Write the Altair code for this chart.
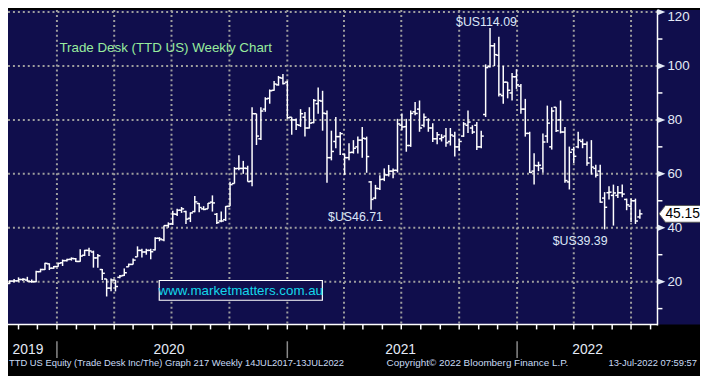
import altair as alt
import pandas as pd

# ---------------- data (weekly OHLC, TTD US) ----------------
START = "2019-10-04"
opens = [19.2, 19.0, 19.3, 20.2, 20.3, 20.8, 20.6, 20.0, 20.0, 23.7,
         24.5, 26.6, 25.0, 25.6, 27.0, 27.8, 28.3, 28.5, 27.5, 29.8,
         31.6, 31.0, 28.8, 24.5, 21.0, 17.6, 20.6, 21.6, 22.3, 25.5,
         26.4, 29.2, 31.6, 31.0, 31.6, 31.8, 36.1, 35.5, 40.8, 41.4,
         45.0, 46.5, 46.0, 43.5, 46.0, 49.0, 47.0, 47.0, 49.5, 45.0,
         42.5, 43.0, 48.0, 56.4, 62.0, 62.0, 62.0, 57.3, 82.3, 73.0,
         84.0, 88.0, 91.0, 93.0, 95.5, 94.0, 81.0, 80.0, 78.0, 81.0,
         77.0, 79.0, 86.0, 87.0, 82.3, 66.0, 72.0, 73.8, 67.3, 66.0,
         68.0, 70.0, 72.5, 73.0, 57.0, 51.0, 54.5, 58.0, 59.6, 61.0,
         61.3, 78.0, 77.5, 70.5, 83.0, 84.0, 78.0, 80.0, 77.0, 73.0,
         73.0, 74.0, 72.0, 74.0, 70.0, 74.0, 78.0, 77.0, 78.0, 70.0,
         82.0, 99.8, 107.5, 104.0, 89.0, 94.0, 90.0, 96.0, 92.5, 84.0,
         75.0, 61.0, 63.0, 62.0, 74.0, 70.0, 84.7, 80.0, 75.5, 57.0,
         69.0, 70.0, 72.0, 71.0, 66.0, 62.0, 61.0, 51.0, 53.0, 52.0,
         52.0, 53.0, 50.5, 48.0, 50.0, 44.0]
highs = [19.6, 19.8, 20.5, 21.0, 21.6, 21.3, 21.8, 20.8, 24.0, 24.8,
         27.0, 26.8, 25.8, 27.0, 28.2, 28.5, 29.0, 28.8, 32.0, 31.8,
         32.6, 31.5, 30.3, 24.7, 21.0, 21.2, 20.6, 22.5, 24.9, 26.7,
         28.6, 33.1, 32.2, 32.2, 32.2, 36.5, 36.5, 40.8, 42.0, 46.3,
         47.0, 47.7, 46.3, 45.7, 51.8, 49.2, 48.0, 49.2, 52.0, 45.5,
         46.0, 48.0, 57.1, 62.5, 66.9, 64.8, 63.0, 84.7, 82.3, 84.7,
         88.4, 91.3, 94.4, 96.3, 97.0, 94.5, 81.0, 80.5, 84.0, 82.9,
         84.7, 87.8, 92.0, 90.8, 83.5, 76.0, 81.1, 75.5, 67.5, 71.3,
         72.5, 73.8, 77.4, 73.8, 57.3, 55.9, 59.5, 62.0, 63.3, 62.0,
         80.4, 82.4, 80.4, 83.5, 86.6, 87.2, 82.4, 80.6, 78.8, 75.5,
         74.7, 77.0, 77.0, 75.6, 73.0, 79.2, 83.5, 78.0, 79.2, 76.0,
         100.6, 114.09, 108.5, 110.8, 100.0, 94.0, 97.4, 98.8, 93.3, 87.8,
         75.6, 67.6, 64.5, 75.0, 85.3, 84.7, 84.7, 87.2, 77.4, 70.1,
         70.0, 75.6, 73.0, 72.0, 72.5, 63.4, 63.4, 53.2, 55.4, 56.0,
         55.5, 56.0, 50.8, 50.8, 50.8, 46.8]
lows = [18.6, 18.8, 19.2, 19.8, 20.0, 20.2, 20.0, 19.6, 19.8, 23.5,
        24.3, 24.3, 24.8, 25.5, 25.8, 27.5, 27.8, 27.3, 27.4, 29.5,
        29.5, 25.2, 25.2, 20.6, 14.5, 16.4, 16.4, 21.3, 22.1, 25.5,
        26.4, 29.2, 29.0, 30.0, 28.3, 31.6, 35.0, 35.0, 40.0, 41.0,
        44.4, 45.5, 41.4, 42.1, 45.7, 45.7, 46.5, 47.0, 46.0, 41.4,
        42.0, 42.5, 48.0, 56.4, 61.3, 60.0, 57.1, 55.4, 70.7, 72.5,
        83.0, 86.0, 90.8, 92.7, 93.1, 80.4, 74.5, 76.3, 77.4, 73.8,
        76.8, 78.8, 82.3, 76.0, 56.7, 65.0, 69.5, 67.0, 59.6, 65.0,
        67.5, 67.5, 66.0, 60.4, 46.71, 50.6, 54.0, 57.3, 59.0, 58.4,
        60.5, 76.2, 68.2, 70.0, 81.7, 75.6, 77.3, 75.6, 71.8, 71.0,
        72.0, 70.0, 70.5, 66.4, 68.5, 73.7, 75.1, 74.8, 68.8, 69.5,
        81.1, 99.4, 100.0, 88.7, 86.0, 88.0, 87.2, 91.5, 82.3, 73.8,
        60.3, 56.0, 61.0, 60.4, 71.5, 69.0, 75.5, 75.0, 56.7, 54.2,
        64.0, 69.5, 69.5, 63.0, 59.7, 58.6, 49.3, 39.39, 50.5, 40.8,
        51.0, 51.3, 46.5, 42.1, 41.4, 43.3]
closes = [19.0, 19.3, 20.2, 20.3, 20.8, 20.9, 20.2, 20.0, 23.7, 24.5,
          26.8, 25.0, 25.6, 26.8, 27.8, 28.2, 28.6, 27.5, 29.5, 31.6,
          31.4, 28.8, 29.6, 23.1, 17.6, 20.6, 18.2, 22.1, 23.3, 26.4,
          28.0, 31.6, 31.0, 31.6, 31.1, 36.1, 35.8, 40.8, 41.4, 45.1,
          46.5, 47.0, 43.2, 45.5, 49.6, 47.5, 46.8, 49.1, 49.2, 41.9,
          42.5, 47.9, 56.0, 61.9, 62.0, 62.1, 57.1, 82.3, 74.0, 83.3,
          87.8, 90.8, 93.3, 95.7, 93.5, 80.8, 80.0, 78.2, 82.3, 77.0,
          78.8, 87.2, 87.2, 82.5, 66.0, 68.3, 73.8, 74.9, 66.0, 67.9,
          69.5, 72.5, 73.2, 66.4, 50.5, 54.6, 57.9, 59.6, 61.0, 61.3,
          78.5, 77.4, 70.5, 82.4, 82.4, 77.0, 81.0, 77.0, 73.0, 74.5,
          73.5, 71.5, 74.4, 70.0, 72.0, 78.5, 79.2, 75.5, 70.0, 74.0,
          99.4, 107.5, 104.2, 89.5, 94.0, 91.0, 96.0, 93.0, 84.0, 75.0,
          60.5, 63.1, 63.2, 71.8, 78.8, 83.3, 76.0, 75.5, 57.5, 68.0,
          66.5, 72.5, 71.0, 64.0, 62.5, 59.5, 49.5, 47.6, 53.2, 52.9,
          53.0, 52.5, 48.5, 50.0, 42.5, 45.15]

y_ticks = [10, 20, 30, 40, 50, 60, 70, 80, 90, 100, 110, 120]
y_major = [20, 40, 60, 80, 100, 120]
quarter_starts = ["2020-01-01", "2020-04-01", "2020-07-01", "2020-10-01",
                  "2021-01-01", "2021-04-01", "2021-07-01", "2021-10-01",
                  "2022-01-01", "2022-04-01", "2022-07-01"]
year_starts = ["2020-01-01", "2021-01-01", "2022-01-01"]
year_labels = ["2019", "2020", "2021", "2022"]
year_label_dates = ["2019-11-16", "2020-06-27", "2021-06-30", "2022-04-23"]
marked_prices = [114.09, 46.71, 39.39]
title_text = "Trade Desk (TTD US) Weekly Chart"
site_text = "www.marketmatters.com.au"
footer_left = "TTD US Equity (Trade Desk Inc/The) Graph 217  Weekly 14JUL2017-13JUL2022"
footer_mid = "Copyright\u00a9 2022 Bloomberg Finance L.P."
footer_right = "13-Jul-2022 07:59:57"

# ---------------- tables ----------------
dates = pd.date_range(START, periods=len(closes), freq="7D").strftime("%Y-%m-%d").tolist()
bars = pd.DataFrame({"date": dates, "open": opens, "high": highs,
                     "low": lows, "close": closes})
month_ticks = pd.date_range("2019-11-01", "2022-08-01", freq="MS").strftime("%Y-%m-%d").tolist()


def ms(s):
    return int(pd.Timestamp(s).value // 10**6)


NAVY = "#100E4C"
GRID = "#9E9E9E"
WHITE = "#FFFFFF"
LABEL = "#E4EAF6"
FONT = "Liberation Sans"
W, H = 657, 318

xs = alt.Scale(domain=[ms("2019-10-15T07:00"), ms("2022-08-12")], nice=False)
ys = alt.Scale(domain=[4.12, 120.73], nice=False, zero=False)


def X(field):
    return alt.X(field, scale=xs, axis=None)


def Y(field):
    return alt.Y(field, scale=ys, axis=None)


one = pd.DataFrame({"k": [0]})

strip = alt.Chart(one).mark_rect(color=NAVY).encode(
    x=alt.value(W), x2=alt.value(W + 43), y=alt.value(0), y2=alt.value(H))

vgrid = alt.Chart(pd.DataFrame({"date": quarter_starts})).mark_rule(
    color=GRID, strokeDash=[2, 3], strokeWidth=2).encode(x=X("date:T"))

hgrid = alt.Chart(pd.DataFrame({"v": y_major})).mark_rule(
    color=GRID, strokeDash=[2, 3], strokeWidth=2).encode(y=Y("v:Q"))

hl = alt.Chart(bars).mark_rule(color=WHITE, strokeWidth=1.5).encode(
    x=X("date:T"), y=Y("low:Q"), y2="high:Q")

open_tick = alt.Chart(bars).mark_rule(color=WHITE, strokeWidth=1.5,
                                      xOffset=-2.6, x2Offset=0).encode(
    x=X("date:T"), x2="date:T", y=Y("open:Q"))

close_tick = alt.Chart(bars).mark_rule(color=WHITE, strokeWidth=1.5,
                                       xOffset=0, x2Offset=2.6).encode(
    x=X("date:T"), x2="date:T", y=Y("close:Q"))

# ---- axes drawn as marks (right price axis, bottom month ticks) ----
y_domain = alt.Chart(one).mark_rule(color=WHITE, strokeWidth=1.5).encode(
    x=alt.value(W), y=alt.value(0), y2=alt.value(H + 1))
y_tick = alt.Chart(pd.DataFrame({"v": y_ticks})).mark_rule(
    color=WHITE, strokeWidth=1.5).encode(
    x=alt.value(W), x2=alt.value(W + 5), y=Y("v:Q"))
tri = alt.Chart(pd.DataFrame({"v": y_major})).mark_point(
    shape="M0,-3.2L8,0L0,3.2Z", size=4, filled=True, opacity=1, color=LABEL).encode(
    x=alt.value(W), y=Y("v:Q"))
lab_df = pd.DataFrame({"v": y_major})
y_lab = alt.Chart(lab_df[lab_df.v < max(y_major)]).mark_text(
    font=FONT, fontSize=13.5, color=LABEL, align="left", baseline="middle", dy=0.5).encode(
    x=alt.value(W + 10), y=Y("v:Q"), text="v:Q")
y_lab_top = alt.Chart(lab_df[lab_df.v == max(y_major)]).mark_text(
    font=FONT, fontSize=13.5, color=LABEL, align="left", baseline="middle", dy=5).encode(
    x=alt.value(W + 10), y=Y("v:Q"), text="v:Q")

x_domain = alt.Chart(one).mark_rule(color=WHITE, strokeWidth=1.5).encode(
    x=alt.value(0), x2=alt.value(W), y=alt.value(H))
x_tick = alt.Chart(pd.DataFrame({"date": month_ticks})).mark_rule(
    color=WHITE, strokeWidth=1.5).encode(
    x=X("date:T"), y=alt.value(H), y2=alt.value(H + 5))


def text_layer(txt, x, y, **kw):
    return alt.Chart(pd.DataFrame({"t": [txt]})).mark_text(font=FONT, **kw).encode(
        x=alt.value(x), y=alt.value(y), text="t:N")


title = text_layer(title_text, 52, 38, align="left", baseline="middle",
                   fontSize=13.5, color="#98EC9E")

ann_pos = [(484, 12), (351.5, 209.5), (578.7, 233.3)]
anns = [text_layer(f"$US{v:.2f}", px, py, align="center", baseline="middle",
                   fontSize=12.5, color="#DCE6F8")
        for v, (px, py) in zip(marked_prices, ann_pos)]

site_box = alt.Chart(one).mark_rect(fill=NAVY, stroke=WHITE, strokeWidth=1.2).encode(
    x=alt.value(153), x2=alt.value(318), y=alt.value(273.5), y2=alt.value(293.5))
site = text_layer(site_text, 235.5, 284, align="center", baseline="middle",
                  fontSize=13.5, color="#14D6EA")

last = pd.DataFrame({"v": [closes[-1]], "t": [f"{closes[-1]:.2f}"]})
tag = alt.Chart(last).mark_point(
    shape="M1.5,0L8,-8.5L44,-8.5L44,8.5L8,8.5Z", size=4, filled=True, opacity=1,
    fill=WHITE, stroke="#555555", strokeWidth=1).encode(
    x=alt.value(W), y=Y("v:Q"))
tag_text = alt.Chart(last).mark_text(font=FONT, fontSize=14, color="#000000",
                                     align="left", baseline="middle", dy=0.5).encode(
    x=alt.value(W + 8), y=Y("v:Q"), text="t:N")

yr_sep = alt.Chart(pd.DataFrame({"date": year_starts})).mark_rule(
    color="#8A8A8A", strokeWidth=1.5).encode(
    x=X("date:T"), y=alt.value(335), y2=alt.value(352))
yr_lab = alt.Chart(pd.DataFrame({"date": year_label_dates, "t": year_labels})).mark_text(
    font=FONT, fontSize=14, color=LABEL, align="center", baseline="middle").encode(
    x=X("date:T"), y=alt.value(344), text="t:N")

foot_l = text_layer(footer_left, 1, 357, align="left", baseline="middle",
                    fontSize=9.5, color="#C9DBF5")
foot_m = text_layer(footer_mid, 383, 357, align="left", baseline="middle",
                    fontSize=10, color="#C9DBF5")
foot_r = text_layer(footer_right, 697, 357, align="right", baseline="middle",
                    fontSize=9.5, color="#C9DBF5")

chart = alt.layer(
    strip, vgrid, hgrid, hl, open_tick, close_tick,
    y_domain, y_tick, tri, y_lab, y_lab_top, x_domain, x_tick,
    title, *anns, site_box, site, tag, tag_text, yr_sep, yr_lab,
    foot_l, foot_m, foot_r
).properties(
    width=W, height=H,
    autosize=alt.AutoSizeParams(type="none"),
    padding={"left": 0, "top": 0, "right": 43, "bottom": 50},
    background="#000000",
).configure_view(fill=NAVY, strokeWidth=0)

chart.save("out.html", embed_options={"renderer": "svg", "actions": False})
